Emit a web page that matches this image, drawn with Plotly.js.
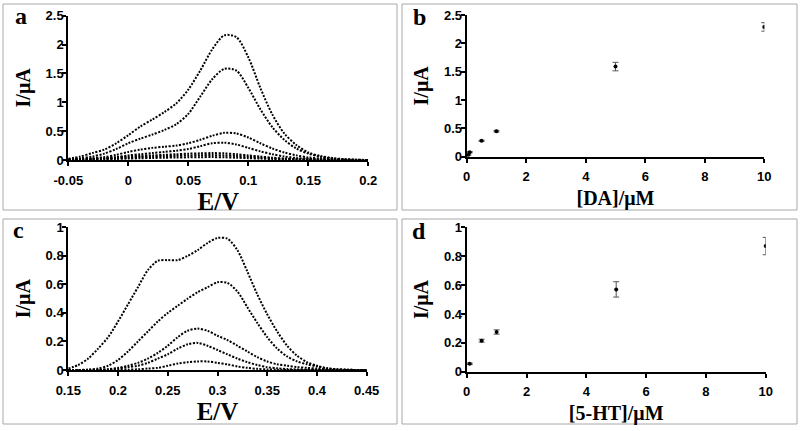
<!DOCTYPE html>
<html>
<head>
<meta charset="utf-8">
<script src="https://cdn.plot.ly/plotly-3.0.1.min.js"></script>
<style>html,body{margin:0;padding:0;background:#fff;}#chart{width:800px;height:431px;}</style>
</head>
<body>
<div id="chart"></div>
<script>
// ---- Panel a: DPV curves for DA (E/V vs I/µA) ----
const potentialA = [-0.05,-0.04,-0.03,-0.02,-0.01,0,0.01,0.02,0.03,0.04,0.05,0.06,0.07,0.08,0.09,0.1,0.11,0.12,0.13,0.14,0.15,0.16,0.17,0.18,0.19,0.2];
const curveA1 = [0.02,0.06,0.12,0.18,0.29,0.43,0.58,0.70,0.83,0.98,1.22,1.55,1.92,2.16,2.13,1.78,1.25,0.79,0.46,0.26,0.13,0.07,0.035,0.015,0.005,0];
const curveA2 = [0.01,0.03,0.06,0.11,0.19,0.29,0.37,0.44,0.52,0.62,0.80,1.10,1.40,1.58,1.55,1.25,0.88,0.57,0.35,0.20,0.11,0.055,0.025,0.01,0.003,0];
const curveA3 = [0.005,0.015,0.03,0.05,0.09,0.14,0.18,0.21,0.23,0.25,0.29,0.35,0.42,0.47,0.46,0.39,0.29,0.20,0.13,0.08,0.045,0.025,0.012,0.005,0.002,0];
const curveA4 = [0.003,0.008,0.015,0.03,0.05,0.08,0.10,0.12,0.14,0.16,0.19,0.24,0.29,0.30,0.27,0.21,0.15,0.10,0.06,0.035,0.02,0.01,0.005,0.002,0,0];
const curveA5 = [0.005,0.01,0.02,0.03,0.045,0.06,0.07,0.08,0.09,0.10,0.11,0.115,0.12,0.115,0.10,0.08,0.06,0.04,0.025,0.015,0.01,0.005,0.002,0,0,0];
const curveA6 = [0.003,0.007,0.013,0.02,0.03,0.04,0.05,0.06,0.065,0.072,0.078,0.083,0.085,0.08,0.07,0.055,0.04,0.028,0.018,0.01,0.006,0.003,0.001,0,0,0];
const curveA7 = [0.002,0.004,0.008,0.012,0.018,0.025,0.03,0.035,0.04,0.043,0.046,0.049,0.05,0.047,0.04,0.032,0.024,0.016,0.01,0.006,0.003,0.002,0,0,0,0];
const tickValsA = [-0.05,0,0.05,0.1,0.15,0.2];
const tickTextA = ['-0.05','0','0.05','0.1','0.15','0.2'];

// ---- Panel b: calibration DA ----
const concDA = [0.05,0.1,0.5,1,5,10];
const currentDA = [0.03,0.08,0.28,0.45,1.59,2.29];
const errorDA = [0.005,0.01,0.01,0.015,0.075,0.075];

// ---- Panel c: DPV curves for 5-HT ----
const potentialC = [0.15,0.16,0.17,0.18,0.19,0.2,0.21,0.22,0.23,0.24,0.25,0.26,0.27,0.28,0.29,0.3,0.31,0.32,0.33,0.34,0.35,0.36,0.37,0.38,0.39,0.4,0.41,0.42,0.43,0.44,0.45];
const curveC1 = [0.01,0.035,0.08,0.15,0.23,0.34,0.46,0.58,0.70,0.765,0.77,0.77,0.80,0.84,0.89,0.925,0.92,0.84,0.69,0.53,0.39,0.27,0.17,0.10,0.055,0.03,0.012,0.005,0.002,0,0];
const curveC2 = [0,0,0.003,0.01,0.03,0.07,0.13,0.20,0.27,0.34,0.40,0.45,0.50,0.545,0.58,0.615,0.61,0.55,0.44,0.33,0.23,0.15,0.095,0.06,0.04,0.025,0.012,0.005,0.002,0,0];
const curveC3 = [0,0,0,0.002,0.006,0.015,0.03,0.05,0.08,0.12,0.17,0.23,0.275,0.29,0.275,0.24,0.21,0.17,0.13,0.09,0.06,0.04,0.03,0.02,0.015,0.01,0.005,0.002,0,0,0];
const curveC4 = [0,0,0,0,0.003,0.01,0.02,0.03,0.05,0.08,0.11,0.15,0.18,0.19,0.17,0.14,0.11,0.08,0.055,0.035,0.02,0.012,0.007,0.004,0.002,0.001,0,0,0,0,0];
const curveC5 = [0,0,0,0,0,0,0.002,0.005,0.01,0.015,0.03,0.045,0.055,0.06,0.06,0.05,0.04,0.025,0.015,0.008,0.004,0.002,0,0,0,0,0,0,0,0,0];

// ---- Panel d: calibration 5-HT ----
const conc5HT = [0.1,0.5,1,5,10];
const current5HT = [0.055,0.215,0.275,0.57,0.87];
const error5HT = [0.005,0.01,0.015,0.053,0.06];

const W = 800, H = 431;
const fx = p => p / W;
const fy = p => 1 - p / H;

const curveLine = {color:'#000', width:2, dash:'2px,1.5px', shape:'spline', smoothing:0.8};
function curve(x, y, xa, ya){
  return {type:'scatter', mode:'lines', x:x, y:y, xaxis:xa, yaxis:ya, line:curveLine, hoverinfo:'skip', showlegend:false};
}
function points(x, y, e, xa, ya){
  return {type:'scatter', mode:'markers', x:x, y:y, xaxis:xa, yaxis:ya,
    marker:{color:'#000', size:4},
    error_y:{type:'data', array:e, visible:true, color:'#555', thickness:1, width:3},
    showlegend:false};
}

const traces = [
  curve(potentialA, curveA7, 'x', 'y'),
  curve(potentialA, curveA6, 'x', 'y'),
  curve(potentialA, curveA5, 'x', 'y'),
  curve(potentialA, curveA4, 'x', 'y'),
  curve(potentialA, curveA3, 'x', 'y'),
  curve(potentialA, curveA2, 'x', 'y'),
  curve(potentialA, curveA1, 'x', 'y'),
  points(concDA, currentDA, errorDA, 'x2', 'y2'),
  curve(potentialC, curveC5, 'x3', 'y3'),
  curve(potentialC, curveC4, 'x3', 'y3'),
  curve(potentialC, curveC3, 'x3', 'y3'),
  curve(potentialC, curveC2, 'x3', 'y3'),
  curve(potentialC, curveC1, 'x3', 'y3'),
  points(conc5HT, current5HT, error5HT, 'x4', 'y4')
];

const tickFont = {family:'Liberation Sans, Arial, sans-serif', size:13, weight:'bold', color:'#000'};
const titleFont = {family:'Liberation Serif, Times New Roman, serif', size:20, weight:'bold', color:'#000'};
const evFont = {family:'Liberation Serif, Times New Roman, serif', size:25, weight:'bold', color:'#000'};
function xax(extra){
  return Object.assign({
    showline:true, linecolor:'#000', linewidth:2,
    ticks:'outside', ticklen:4, tickwidth:2, tickcolor:'#000', ticklabelstandoff:3,
    showgrid:false, zeroline:false, tickfont:tickFont, fixedrange:true
  }, extra);
}
function yax(extra){
  return Object.assign({
    showline:true, linecolor:'#000', linewidth:2,
    ticks:'outside', ticklen:4, tickwidth:2, tickcolor:'#000', ticklabelstandoff:-4,
    showgrid:false, zeroline:false, tickfont:tickFont, fixedrange:true
  }, extra);
}

const layout = {
  width:W, height:H,
  margin:{l:0, r:0, t:0, b:0},
  paper_bgcolor:'#fff', plot_bgcolor:'rgba(0,0,0,0)',
  showlegend:false,
  xaxis: xax({domain:[fx(68.3), fx(368.3)], anchor:'y', range:[-0.05,0.2], tickvals:tickValsA, ticktext:tickTextA,
    title:{text:'E/V', font:evFont, standoff:0}}),
  yaxis: yax({domain:[fy(160), fy(15.7)], anchor:'x', range:[0,2.5], dtick:0.5,
    title:{text:'I/μA', font:titleFont, standoff:10}}),
  xaxis2: xax({domain:[fx(466.7), fx(764.3)], anchor:'y2', range:[0,10], dtick:2,
    title:{text:'[DA]/μM', font:titleFont, standoff:8}}),
  yaxis2: yax({domain:[fy(156.7), fy(15)], anchor:'x2', range:[0,2.5], dtick:0.5,
    title:{text:'I/μA', font:titleFont, standoff:10}}),
  xaxis3: xax({domain:[fx(68.3), fx(366.7)], anchor:'y3', range:[0.15,0.45], tick0:0.15, dtick:0.05,
    title:{text:'E/V', font:evFont, standoff:0}}),
  yaxis3: yax({domain:[fy(370), fy(227.3)], anchor:'x3', range:[0,1], dtick:0.2,
    title:{text:'I/μA', font:titleFont, standoff:10}}),
  xaxis4: xax({domain:[fx(466.7), fx(765.7)], anchor:'y4', range:[0,10], dtick:2,
    title:{text:'[5-HT]/μM', font:titleFont, standoff:8}}),
  yaxis4: yax({domain:[fy(371.7), fy(227.3)], anchor:'x4', range:[0,1], dtick:0.2,
    title:{text:'I/μA', font:titleFont, standoff:10}}),
  shapes: [
    {type:'rect', xref:'paper', yref:'paper', x0:fx(3), x1:fx(397), y0:fy(210), y1:fy(4), line:{color:'#a8a8a8', width:1}},
    {type:'rect', xref:'paper', yref:'paper', x0:fx(402), x1:fx(797), y0:fy(210), y1:fy(4), line:{color:'#a8a8a8', width:1}},
    {type:'rect', xref:'paper', yref:'paper', x0:fx(3), x1:fx(397), y0:fy(424), y1:fy(219), line:{color:'#a8a8a8', width:1}},
    {type:'rect', xref:'paper', yref:'paper', x0:fx(402), x1:fx(797), y0:fy(424), y1:fy(219), line:{color:'#a8a8a8', width:1}}
  ],
  annotations: [
    {text:'a', xref:'paper', yref:'paper', x:fx(21), y:fy(16), xanchor:'center', yanchor:'middle', showarrow:false,
     font:{family:'Liberation Serif, Times New Roman, serif', size:24, weight:'bold', color:'#000'}},
    {text:'b', xref:'paper', yref:'paper', x:fx(419), y:fy(17), xanchor:'center', yanchor:'middle', showarrow:false,
     font:{family:'Liberation Serif, Times New Roman, serif', size:24, weight:'bold', color:'#000'}},
    {text:'c', xref:'paper', yref:'paper', x:fx(18), y:fy(230), xanchor:'center', yanchor:'middle', showarrow:false,
     font:{family:'Liberation Serif, Times New Roman, serif', size:24, weight:'bold', color:'#000'}},
    {text:'d', xref:'paper', yref:'paper', x:fx(419), y:fy(231), xanchor:'center', yanchor:'middle', showarrow:false,
     font:{family:'Liberation Serif, Times New Roman, serif', size:24, weight:'bold', color:'#000'}}
  ]
};

Plotly.newPlot('chart', traces, layout, {displayModeBar:false, staticPlot:true});
</script>
</body>
</html>
